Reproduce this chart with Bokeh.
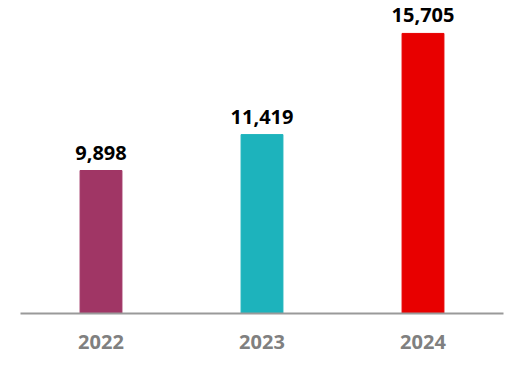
from bokeh.plotting import figure
from bokeh.models import ColumnDataSource, Range1d, LabelSet
from bokeh.core.properties import value
from bokeh.embed import file_html
from bokeh.resources import INLINE

years = ["2022", "2023", "2024"]
values = [9898, 11419, 15705]
colors = ["#A03665", "#1DB3BC", "#E80000"]
labels = ["9,898", "11,419", "15,705"]

src = ColumnDataSource(dict(x=years, top=values, color=colors, label=labels))

p = figure(x_range=years, width=532, height=372, output_backend="svg",
           toolbar_location=None, min_border_left=20, min_border_right=29,
           min_border_top=0, min_border_bottom=59)
p.y_range = Range1d(3840, 17100)
p.x_range.range_padding = 0

p.vbar(x="x", top="top", bottom=0, width=0.26, color="color", source=src)
lbl = LabelSet(x="x", y="top", text="label", source=src, y_offset=11,
               text_align="center", text_baseline="alphabetic",
               text_font=value("Noto Sans"), text_font_style="bold",
               text_font_size="20px", text_color="#000000")
p.add_layout(lbl)

p.yaxis.visible = False
p.grid.visible = False
p.outline_line_color = None
xa = p.xaxis[0]
xa.axis_line_color = "#9A9A9A"
xa.axis_line_width = 2
xa.major_tick_line_color = None
xa.minor_tick_line_color = None
xa.major_label_text_font = "Noto Sans"
xa.major_label_text_font_style = "bold"
xa.major_label_text_font_size = "20px"
xa.major_label_text_color = "#808080"
xa.major_label_standoff = 15

html = file_html(p, INLINE)
html = html.replace("<body>", "<body style=\"margin:0\">", 1)
open("out.html", "w").write(html)
